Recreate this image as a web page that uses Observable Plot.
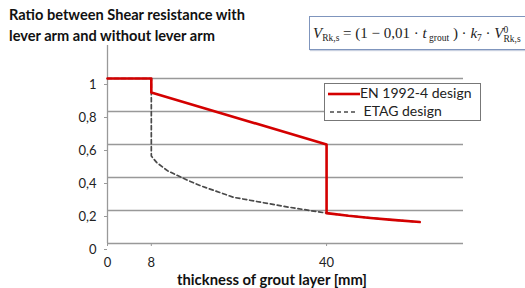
<!DOCTYPE html>
<html><head><meta charset="utf-8">
<script src="https://cdn.jsdelivr.net/npm/d3@7"></script>
<script src="https://cdn.jsdelivr.net/npm/@observablehq/plot@0.6"></script>
<style>
body{margin:0;background:#fff;}
#wrap{position:relative;width:525px;height:288px;overflow:hidden;font-family:Lato,"Open Sans",sans-serif;}
#title{position:absolute;left:9px;top:4px;font-weight:bold;font-size:14.6px;line-height:21px;color:#111;}
#formula{position:absolute;left:309px;top:16px;width:230px;height:32px;border:1px solid #7f95bd;box-shadow:1px 1px 1px #c8d0e0;font-family:"Liberation Serif","DejaVu Serif",serif;font-size:15px;color:#222;white-space:nowrap;line-height:33px;padding-left:3px;}
#formula sub{font-size:9.5px;vertical-align:-3px;}
.ss{display:inline-block;vertical-align:-4px;line-height:9px;font-size:9.5px;text-align:left;}
#legend{position:absolute;left:324px;top:83px;width:155px;height:36px;border:1px solid #777;background:#fff;font-size:14px;color:#222;}
#legend div{position:absolute;left:3px;height:18px;line-height:18px;white-space:nowrap;}
#xlabel{position:absolute;left:177px;top:270px;font-weight:bold;font-size:14.8px;color:#111;}
</style></head>
<body><div id="wrap"></div>
<script>
const xTicks = [0, 8, 40];
const yTicks = [0, 0.2, 0.4, 0.6, 0.8, 1];
const enX = [0, 8, 8, 40, 40, 44, 48, 52, 57];
const enY = [1, 1, 0.915, 0.6, 0.184, 0.168, 0.155, 0.143, 0.13];
const etagX = [0, 8, 8, 9, 11, 14.5, 17, 23, 32, 40, 44, 48, 52, 57];
const etagY = [1, 1, 0.53, 0.49, 0.44, 0.385, 0.35, 0.28, 0.226, 0.184, 0.168, 0.155, 0.143, 0.13];
const seriesNames = ["EN 1992-4 design", "ETAG design"];
const titleLines = ["Ratio between Shear resistance with", "lever arm and without lever arm"];
const xLabel = "thickness of grout layer [mm]";

const en = enX.map((x, i) => ({x, y: enY[i]}));
const etag = etagX.map((x, i) => ({x, y: etagY[i]}));
const fmt = d => String(d).replace(".", ",");

const plot = Plot.plot({
  width: 525, height: 288,
  marginLeft: 107, marginRight: 62, marginTop: 45, marginBottom: 45,
  x: {domain: [0, 65]},
  y: {domain: [0, 1.2]},
  style: {fontFamily: "Lato, 'Open Sans', sans-serif", fontSize: "13px", color: "#222", background: "#fff"},
  marks: [
    Plot.ruleY(yTicks, {stroke: "#999", strokeWidth: 1.3}),
    Plot.ruleX([0], {y1: 0, y2: 1.2, stroke: "#999", strokeWidth: 1.3}),
    Plot.axisY(yTicks, {tickSize: 3, tickPadding: 8, tickFormat: fmt, dy: 6, stroke: "#999", label: null, fontSize: 13}),
    Plot.axisX(xTicks, {tickSize: 3, tickPadding: 11, tickFormat: fmt, stroke: "#999", label: null, fontSize: 13}),
    Plot.line(etag, {x: "x", y: "y", stroke: "#4a4a4a", strokeWidth: 1.7, strokeDasharray: "4,3"}),
    Plot.line(en, {x: "x", y: "y", stroke: "#d40000", strokeWidth: 2.6})
  ]
});
const wrap = document.getElementById("wrap");
wrap.appendChild(plot);

const t = document.createElement("div"); t.id = "title";
t.innerHTML = titleLines.join("<br>"); wrap.appendChild(t);

const f = document.createElement("div"); f.id = "formula";
f.innerHTML = '<i>V</i><sub>Rk,s</sub> = (1 − 0,01 · <i>t</i><sub> grout</sub> ) · <i>k</i><sub>7</sub> · <i>V</i><span class="ss">0<br>Rk,s</span>';
wrap.appendChild(f);

const lg = document.createElement("div"); lg.id = "legend";
lg.innerHTML = '<div style="top:0px"><svg width="32" height="10" style="vertical-align:middle"><line x1="0" y1="5" x2="32" y2="5" stroke="#d40000" stroke-width="2.6"/></svg>' + seriesNames[0] + '</div>' +
  '<div style="top:18px"><svg width="32" height="10" style="vertical-align:middle"><line x1="2" y1="5" x2="30" y2="5" stroke="#4a4a4a" stroke-width="1.7" stroke-dasharray="4,3"/></svg> ' + seriesNames[1] + '</div>';
wrap.appendChild(lg);

const xl = document.createElement("div"); xl.id = "xlabel"; xl.textContent = xLabel; wrap.appendChild(xl);
</script></body></html>
